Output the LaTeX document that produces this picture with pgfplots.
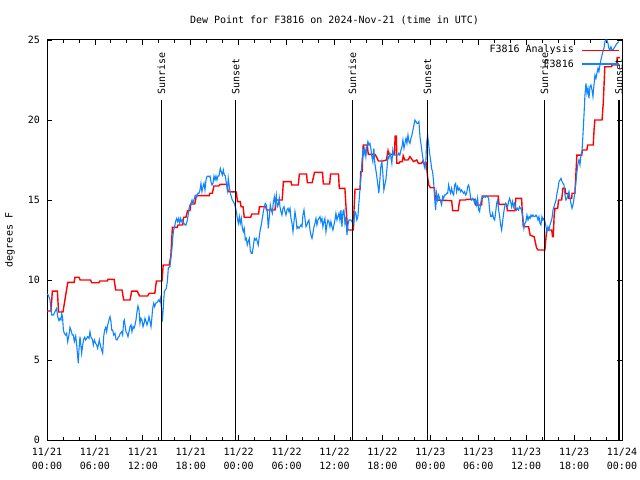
\documentclass[border=0pt]{standalone}
\usepackage{fontspec}
\setmainfont{DejaVu Sans Mono}
\usepackage{pgfplots}
\pgfplotsset{compat=1.18}
\definecolor{obsblue}{RGB}{16,132,255}
\newcommand\gf{\fontsize{10bp}{14bp}\selectfont}
\begin{document}
\begin{tikzpicture}
\useasboundingbox (-47bp,-40bp) rectangle (593bp,440bp);
\begin{axis}[
  at={(0,0)}, anchor=south west,
  scale only axis, width=575bp, height=400bp,
  xmin=0, xmax=72, ymin=0, ymax=25,
  xtick={0,6,...,72}, minor x tick num=2,
  ytick={0,5,...,25},
  tick align=inside,
  major tick length=5bp, minor tick length=3bp,
  xticklabels={{11/21\\00:00},{11/21\\06:00},{11/21\\12:00},{11/21\\18:00},{11/22\\00:00},{11/22\\06:00},{11/22\\12:00},{11/22\\18:00},{11/23\\00:00},{11/23\\06:00},{11/23\\12:00},{11/23\\18:00},{11/24\\00:00}},
  xticklabel style={align=center, font=\gf, inner sep=0pt, yshift=-8bp},
  yticklabel style={font=\gf, inner sep=0pt, xshift=-7bp},
  /pgf/number format/assume math mode=true,
  ylabel={degrees F},
  ylabel style={font=\gf, at={(axis description cs:0,0.5)}, anchor=center, yshift=37bp},
  title={Dew Point for F3816 on 2024-Nov-21 (time in UTC)},
  title style={font=\gf, at={(axis description cs:0.5,1)}, anchor=south, yshift=9bp, inner sep=0pt},
  axis line style={line width=1bp},
  tick style={black, line width=0.8bp},
]
\addplot[draw=red, line width=1.4bp] coordinates {
(0,8.06) (0.5,8.06) (0.67,9.3) (1.3,9.3) (1.45,8.0) (2.0,8.0) (2.6,9.85) (3.4,9.85) (3.5,10.17) (4.0,10.17) (4.15,10.0) (5.45,10.0) (5.6,9.83) (6.5,9.83) (6.6,9.94) (7.55,9.94) (7.65,10.04) (8.4,10.04) (8.6,9.375) (9.4,9.375) (9.6,8.75) (10.4,8.75) (10.6,9.3) (11.3,9.3) (11.6,9.0) (12.6,9.0) (12.8,9.17) (13.5,9.17) (13.7,9.94) (14.4,9.94) (14.55,10.94) (15.3,10.94) (15.5,11.46) (15.7,13.29) (16.3,13.29) (16.4,13.44) (17.0,13.44) (17.1,13.92) (17.4,13.92) (17.6,14.33) (17.9,14.33) (18.0,14.75) (18.5,14.75) (18.7,15.27) (20.3,15.27) (20.4,15.42) (20.7,15.42) (20.9,15.875) (21.5,15.875) (21.7,15.98) (22.5,15.98) (22.7,15.52) (23.7,15.5) (23.85,14.9) (24.2,14.9) (24.3,14.58) (24.55,14.58) (24.7,13.92) (25.5,13.92) (25.65,14.125) (26.5,14.125) (26.6,14.58) (27.4,14.58) (27.5,14.375) (28.55,14.375) (28.67,15.0) (29.45,15.0) (29.6,16.15) (30.55,16.15) (30.64,15.94) (31.47,15.94) (31.6,16.625) (32.5,16.625) (32.6,16.08) (33.2,16.08) (33.35,16.4) (33.5,16.73) (34.5,16.73) (34.6,16.0) (35.4,16.0) (35.5,16.625) (36.5,16.625) (36.6,15.73) (37.3,15.73) (37.45,14.5) (37.65,13.125) (38.35,13.125) (38.44,14.375) (38.57,15.67) (39.2,15.67) (39.28,16.77) (39.45,16.77) (39.6,18.44) (40.1,18.44) (40.23,17.85) (41.07,17.85) (41.2,17.75) (41.5,17.44) (42.1,17.44) (42.5,17.5) (42.7,18.08) (42.8,17.85) (43.5,17.85) (43.6,19.0) (43.75,19.0) (43.8,17.3) (44.1,17.3) (44.2,17.4) (44.5,17.4) (44.6,17.77) (44.8,17.5) (45.2,17.5) (45.45,17.71) (45.9,17.4) (46.3,17.5) (46.5,17.29) (46.9,17.29) (47.1,17.46) (47.3,17.19) (47.5,17.29) (47.65,16.46) (47.8,15.94) (48.0,15.77) (48.5,15.77) (48.65,15.0) (50.67,14.96) (50.8,14.33) (51.5,14.33) (51.6,14.75) (51.71,15.0) (52.4,15.0) (52.55,15.04) (53.59,15.04) (53.7,14.69) (54.42,14.69) (54.5,15.25) (56.51,15.25) (56.6,14.73) (57.55,14.73) (57.65,14.33) (58.6,14.33) (58.7,15.1) (59.43,15.1) (59.5,14.375) (59.64,13.33) (60.3,13.33) (60.5,12.8) (61.0,12.7) (61.3,12.0) (61.5,11.875) (62.35,11.875) (62.56,13.125) (63.2,13.125) (63.3,12.7) (63.4,12.7) (63.5,14.0) (63.6,14.48) (63.95,14.48) (64.05,15.0) (64.45,15.0) (64.6,15.73) (64.86,15.73) (64.95,15.4) (65.28,15.4) (65.35,15.1) (65.7,15.1) (65.75,15.42) (66.1,15.42) (66.35,17.8) (66.95,17.8) (67.05,18.125) (67.6,18.125) (67.7,18.44) (68.4,18.44) (68.5,19.375) (68.6,20.0) (69.5,20.0) (69.65,21.04) (69.85,23.33) (70.7,23.33) (70.75,23.44) (71.3,23.44) (71.4,23.9) (71.75,23.9)
};
\addplot[draw=obsblue, line width=1.1bp] coordinates {
(0,9.125) (0.17,9.06) (0.38,8.75) (0.58,7.81) (0.79,7.81) (1.0,8.02) (1.21,8.23) (1.34,7.71) (1.5,7.46) (1.63,7.6) (1.75,7.5) (1.84,7.92) (1.96,7.6) (2.05,6.875) (2.17,6.67) (2.34,6.56) (2.46,6.67) (2.59,6.15) (2.75,6.56) (2.88,7.04) (3.0,6.875) (3.17,6.56) (3.3,6.56) (3.42,6.15) (3.59,6.5) (3.71,6.0) (3.84,5.21) (3.92,4.79) (4.0,5.625) (4.13,6.46) (4.26,5.83) (4.34,5.42) (4.47,5.94) (4.59,6.29) (4.72,6.42) (4.84,6.25) (4.97,6.35) (5.09,6.46) (5.26,6.35) (5.38,6.77) (5.51,6.42) (5.68,6.29) (5.8,5.94) (5.93,6.25) (6.09,6.04) (6.22,5.94) (6.34,5.73) (6.43,5.94) (6.55,6.25) (6.68,5.94) (6.84,5.625) (6.97,5.42) (7.1,6.46) (7.22,6.875) (7.35,7.04) (7.47,6.77) (7.6,7.19) (7.76,7.5) (7.89,7.71) (8.01,7.4) (8.1,6.875) (8.22,6.875) (8.35,6.56) (8.51,6.67) (8.64,6.29) (8.76,6.25) (8.93,6.42) (9.06,6.5) (9.18,6.67) (9.35,6.77) (9.47,6.56) (9.6,7.4) (9.68,7.5) (9.77,7.19) (9.89,6.77) (10.02,6.67) (10.14,6.46) (10.27,6.77) (10.39,7.08) (10.52,7.19) (10.64,6.77) (10.77,7.08) (10.89,6.98) (11.02,7.19) (11.14,7.5) (11.27,8.02) (11.39,8.375) (11.52,8.125) (11.64,7.29) (11.77,7.6) (11.89,7.5) (12.02,7.08) (12.15,7.29) (12.27,7.6) (12.4,7.4) (12.52,7.19) (12.65,7.4) (12.77,7.71) (12.9,7.4) (13.02,7.08) (13.11,7.5) (13.23,8.23) (13.36,8.54) (13.48,8.33) (13.61,8.54) (13.73,8.58) (13.86,8.65) (13.98,8.75) (14.11,8.65) (14.19,8.85) (14.32,8.33) (14.44,7.4) (14.57,8.33) (14.69,9.27) (14.82,9.375) (14.94,9.48) (15.07,9.9) (15.19,10.73) (15.32,10.83)
(15.4,10.83) (15.53,11.46) (15.65,11.98) (15.74,12.6) (15.86,13.125) (15.98,13.33) (16.1,13.65) (16.24,13.85) (16.36,13.65) (16.49,13.85) (16.61,13.54) (16.74,13.85) (16.86,13.65) (16.99,13.75) (17.15,13.54) (17.28,13.44) (17.4,13.44) (17.53,13.65) (17.65,13.96) (17.78,14.48) (17.9,14.69) (18.03,14.79) (18.16,15.0) (18.28,14.79) (18.4,15.0) (18.53,15.25) (18.66,15.31) (18.78,15.21) (18.9,15.42) (19.03,15.42) (19.16,15.625) (19.28,16.04) (19.4,15.52) (19.53,15.83) (19.66,16.04) (19.78,15.625) (19.91,16.25) (20.03,16.46) (20.16,16.5) (20.28,16.46) (20.41,16.5) (20.53,16.15) (20.66,15.94) (20.78,16.04) (20.91,16.5) (21.04,16.25) (21.16,16.5) (21.28,16.25) (21.41,16.5) (21.53,16.5) (21.7,16.98) (21.82,16.77) (21.95,16.56) (22.08,16.875) (22.2,16.56) (22.33,16.5) (22.46,16.04) (22.58,15.625) (22.7,16.35) (22.83,15.83) (22.96,15.42) (23.08,15.21) (23.2,15.0) (23.33,14.9) (23.45,14.79) (23.58,14.58) (23.71,14.27) (23.83,13.85) (23.96,13.54) (24.08,13.96) (24.2,13.54) (24.33,13.85) (24.46,13.23) (24.58,13.02) (24.7,13.23) (24.83,12.5) (24.96,12.6) (25.08,12.19) (25.2,12.4) (25.33,12.6) (25.45,11.875) (25.58,11.67) (25.7,11.67) (25.83,12.08) (25.96,12.6) (26.08,12.5) (26.2,12.6) (26.33,12.4) (26.45,12.19) (26.58,12.71) (26.7,13.125) (26.83,13.44) (26.96,13.85) (27.09,14.27) (27.21,14.58) (27.33,14.79) (27.46,14.69) (27.58,14.27) (27.71,13.23) (27.84,13.96) (27.96,14.69) (28.09,14.375) (28.21,14.17) (28.33,14.79) (28.46,15.21) (28.59,14.79) (28.71,15.31) (28.84,14.58) (28.96,14.69) (29.09,15.1)
(29.17,14.58) (29.3,14.27) (29.42,14.06) (29.55,14.48) (29.68,14.58) (29.8,14.27) (29.93,14.06) (30.05,14.375) (30.18,14.48) (30.3,14.27) (30.43,14.48) (30.55,13.85) (30.68,13.54) (30.8,13.02) (30.93,13.65) (31.05,14.27) (31.18,13.85) (31.3,13.23) (31.43,13.33) (31.55,13.23) (31.68,13.33) (31.8,13.44) (31.93,13.33) (32.05,14.06) (32.18,14.375) (32.3,13.85) (32.43,13.33) (32.55,13.44) (32.68,13.65) (32.8,13.75) (32.93,13.125) (33.05,12.81) (33.18,12.6) (33.3,12.92) (33.43,13.33) (33.55,13.54) (33.68,13.85) (33.8,13.44) (33.93,13.75) (34.05,13.85) (34.18,13.96) (34.3,13.65) (34.43,13.85) (34.55,13.33) (34.68,13.65) (34.8,13.85) (34.93,13.02) (35.05,13.44) (35.18,13.75) (35.3,13.65) (35.43,13.33) (35.55,13.65) (35.68,13.33) (35.8,13.125) (35.93,13.44) (36.06,13.75) (36.18,14.17) (36.31,13.75) (36.43,13.96) (36.56,14.17) (36.68,13.75) (36.81,14.375) (36.93,13.33) (37.06,14.27) (37.18,14.375) (37.31,13.54) (37.43,13.85) (37.56,12.81) (37.68,13.44) (37.81,13.75) (37.93,13.75) (38.06,13.75) (38.18,13.65) (38.31,13.75) (38.43,13.54) (38.56,14.27) (38.68,14.17) (38.8,13.75) (38.93,13.96) (39.05,14.79) (39.18,15.625) (39.3,16.35) (39.43,17.29) (39.55,18.125) (39.68,17.8) (39.8,18.23) (39.93,17.71) (40.05,18.33) (40.18,18.65) (40.3,18.44) (40.43,18.54) (40.55,18.23) (40.68,17.71) (40.8,17.4) (40.93,18.23) (41.05,17.29) (41.18,16.875) (41.3,16.46) (41.43,15.94) (41.55,15.42) (41.68,16.25) (41.8,17.08) (41.93,17.4) (42.05,16.67) (42.18,15.625) (42.3,15.94) (42.43,16.25) (42.55,16.875) (42.68,17.71) (42.8,17.6) (42.93,17.92) (43.05,17.71) (43.18,17.29) (43.3,18.125) (43.43,17.8) (43.55,17.8) (43.68,17.8) (43.8,17.8) (43.93,17.8) (44.05,17.92) (44.18,17.8)
(44.32,18.125) (44.45,18.33) (44.57,18.75) (44.7,18.23) (44.82,18.54) (44.95,18.85) (45.07,18.54) (45.2,19.06) (45.32,18.65) (45.45,18.54) (45.57,18.85) (45.7,19.06) (45.82,19.375) (45.95,19.69) (46.07,20.0) (46.2,19.9) (46.32,19.79) (46.45,19.79) (46.57,19.9) (46.7,18.96) (46.82,18.54) (46.95,18.02) (47.07,17.6) (47.2,17.19) (47.32,16.98) (47.45,17.5) (47.53,18.54) (47.66,19.06) (47.78,18.54) (47.91,17.92) (48.03,17.5) (48.16,16.98) (48.28,16.77) (48.41,16.15) (48.54,15.1) (48.66,14.375) (48.79,15.42) (48.91,15.0) (49.04,15.31) (49.16,15.1) (49.29,14.9) (49.41,14.69) (49.54,15.21) (49.66,15.1) (49.79,15.31) (49.91,15.31) (50.04,15.42) (50.17,15.42) (50.29,15.94) (50.42,15.625) (50.54,15.42) (50.67,15.73) (50.79,15.42) (50.92,15.31) (51.04,15.94) (51.17,16.04) (51.29,15.52) (51.42,15.83) (51.54,15.625) (51.67,15.73) (51.79,15.52) (51.92,15.625) (52.04,15.52) (52.17,15.42) (52.29,15.52) (52.42,15.31) (52.55,15.42) (52.67,15.83) (52.8,15.94) (52.92,15.625) (53.05,15.1) (53.17,15.0) (53.3,15.1) (53.42,15.0) (53.55,14.79) (53.67,15.0) (53.8,14.69) (53.92,15.1) (54.05,14.375) (54.17,14.27) (54.3,14.79) (54.42,15.1) (54.55,15.21) (54.67,15.17) (54.8,15.21) (54.92,15.17) (55.05,15.25) (55.17,15.21) (55.3,15.1) (55.42,14.375) (55.55,13.96) (55.68,13.96) (55.8,14.17) (55.92,13.85) (56.05,13.75) (56.17,14.17) (56.3,14.79) (56.43,15.0) (56.55,14.375) (56.68,13.96) (56.8,13.44) (56.93,13.125) (57.05,13.65) (57.18,14.17) (57.3,14.58) (57.43,14.79) (57.55,14.69) (57.68,14.58) (57.8,14.9) (57.93,15.1) (58.05,14.9) (58.18,14.58) (58.3,14.9) (58.43,14.58) (58.55,14.79) (58.68,14.58) (58.8,14.375) (58.93,14.48) (59.05,14.375) (59.18,14.58) (59.3,14.48) (59.43,14.375)
(59.6,13.85) (59.72,13.23) (59.85,13.54) (59.97,13.65) (60.1,14.06) (60.23,13.75) (60.35,13.96) (60.48,13.85) (60.6,14.06) (60.73,13.96) (60.85,14.06) (60.98,13.96) (61.1,13.96) (61.23,14.06) (61.35,13.96) (61.48,13.75) (61.6,13.96) (61.73,13.54) (61.85,13.44) (61.98,13.96) (62.1,13.75) (62.23,13.85) (62.36,13.65) (62.48,13.33) (62.61,13.02) (62.73,13.33) (62.86,13.125) (62.98,13.44) (63.11,13.65) (63.23,13.85) (63.36,14.375) (63.48,14.58) (63.61,14.79) (63.74,15.0) (63.86,15.42) (63.99,15.73) (64.11,16.15) (64.24,16.25) (64.36,16.35) (64.49,16.15) (64.61,16.04) (64.74,15.94) (64.86,15.31) (64.98,15.0) (65.11,15.1) (65.24,15.31) (65.36,15.52) (65.49,15.1) (65.61,14.79) (65.74,14.48) (65.86,14.69) (65.99,15.1) (66.11,15.52) (66.24,16.15) (66.36,16.77) (66.49,17.29) (66.61,17.5) (66.74,17.19) (66.86,17.81) (66.99,18.02) (67.11,19.06) (67.24,20.3) (67.36,21.56) (67.49,22.29) (67.61,21.67) (67.74,21.98) (67.86,21.35) (67.99,22.08) (68.11,22.19) (68.24,21.875) (68.36,21.46) (68.49,22.19) (68.61,22.81) (68.74,22.6) (68.86,22.92) (68.99,23.23) (69.11,23.02) (69.24,23.44) (69.36,23.75) (69.49,24.06) (69.61,24.27) (69.74,24.48) (69.86,24.9) (69.99,25.0) (70.11,25.0) (70.24,24.79) (70.36,24.48) (70.49,24.375) (70.61,24.58) (70.74,24.375) (70.86,24.375) (70.99,24.48) (71.12,24.58) (71.24,24.69) (71.37,24.79) (71.6,24.9)
};
\addplot[black, line width=1.2bp] coordinates {(14.31,0) (14.31,21.25)};
\addplot[black, line width=1.2bp] coordinates {(23.63,0) (23.63,21.25)};
\addplot[black, line width=1.2bp] coordinates {(38.23,0) (38.23,21.25)};
\addplot[black, line width=1.2bp] coordinates {(47.63,0) (47.63,21.25)};
\addplot[black, line width=1.2bp] coordinates {(62.28,0) (62.28,21.25)};
\addplot[black, line width=1.2bp] coordinates {(71.63,0) (71.63,21.25)};
\node[rotate=90, anchor=west, font=\gf, inner sep=0pt] at (axis cs:14.31,21.6) {Sunrise};
\node[rotate=90, anchor=west, font=\gf, inner sep=0pt] at (axis cs:23.63,21.6) {Sunset};
\node[rotate=90, anchor=west, font=\gf, inner sep=0pt] at (axis cs:38.23,21.6) {Sunrise};
\node[rotate=90, anchor=west, font=\gf, inner sep=0pt] at (axis cs:47.63,21.6) {Sunset};
\node[rotate=90, anchor=west, font=\gf, inner sep=0pt] at (axis cs:62.28,21.6) {Sunrise};
\node[rotate=90, anchor=west, font=\gf, inner sep=0pt] at (axis cs:71.63,21.6) {Sunset};
\end{axis}
% legend (key box, top right inside the axis)
\node[anchor=east, font=\gf, inner sep=0pt] at (527bp,390bp) {F3816 Analysis};
\draw[red, line width=1.2bp] (535bp,389.5bp) -- (572bp,389.5bp);
\node[anchor=east, font=\gf, inner sep=0pt] at (527bp,376.5bp) {F3816};
\draw[draw=obsblue, line width=1.4bp] (535bp,376bp) -- (572bp,376bp);
\end{tikzpicture}
\end{document}
